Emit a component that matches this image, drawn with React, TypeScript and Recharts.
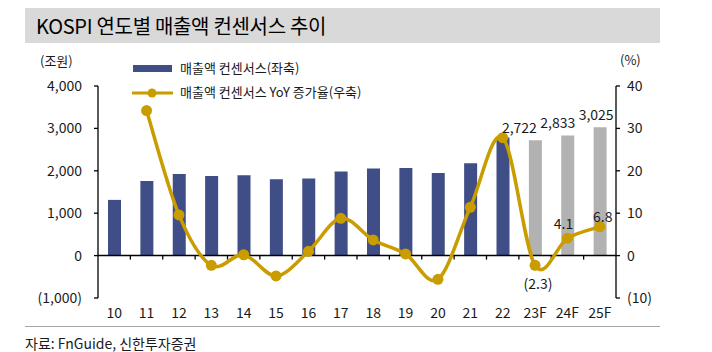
import React from 'react';
import {
  ComposedChart,
  Bar,
  Line,
  XAxis,
  YAxis,
  Cell,
  LabelList,
  ReferenceLine,
} from 'recharts';

const categories = ['10', '11', '12', '13', '14', '15', '16', '17', '18', '19', '20', '21', '22', '23F', '24F', '25F'];
const sales = [1314, 1762, 1927, 1880, 1894, 1802, 1816, 1981, 2052, 2068, 1950, 2179, 2786, 2722, 2833, 3025];
const yoy: (number | null)[] = [null, 34.2, 9.6, -2.3, 0.2, -4.8, 1.0, 8.8, 3.7, 0.4, -5.6, 11.4, 27.8, -2.3, 4.1, 6.8];
const salesLabels: (number | null)[] = [null, null, null, null, null, null, null, null, null, null, null, null, null, 2722, 2833, 3025];
const yoyLabels: (number | null)[] = [null, null, null, null, null, null, null, null, null, null, null, null, null, -2.3, 4.1, 6.8];
const leftTicks = [-1000, 0, 1000, 2000, 3000, 4000];
const rightTicks = [-10, 0, 10, 20, 30, 40];
const isForecast = [false, false, false, false, false, false, false, false, false, false, false, false, false, true, true, true];

const data = categories.map((c, i) => ({
  cat: c,
  sales: sales[i],
  yoy: yoy[i],
  salesLabel: salesLabels[i],
  yoyLabel: yoyLabels[i],
}));

const NAVY = '#3F4E86';
const GRAY = '#B2B2B2';
const GOLD = '#C99C00';
const FONT = '"Noto Sans CJK KR", "Noto Sans", sans-serif';
const TEXT = '#1a1a1a';

const salesLabelDx = [0, 0, 0, 0, 0, 0, 0, 0, 0, 0, 0, 0, 0, -16, -10, -4];
const yoyLabelPos: Record<number, { dx: number; dy: number }> = {
  13: { dx: 3, dy: 20 },
  14: { dx: -4, dy: -13 },
  15: { dx: 3, dy: -9 },
};

const fmtLeft = (v: number) => (v < 0 ? `(${Math.abs(v).toLocaleString('en-US')})` : v.toLocaleString('en-US'));
const fmtRight = (v: number) => (v < 0 ? `(${Math.abs(v)})` : `${v}`);

// Excel-like smooth line (Catmull-Rom spline)
const catmullRom = (context: any) => {
  let pts: number[][] = [];
  return {
    areaStart() {},
    areaEnd() {},
    lineStart() {
      pts = [];
    },
    lineEnd() {
      if (!pts.length) return;
      context.moveTo(pts[0][0], pts[0][1]);
      for (let i = 0; i < pts.length - 1; i++) {
        const p0 = pts[i - 1] || pts[i];
        const p1 = pts[i];
        const p2 = pts[i + 1];
        const p3 = pts[i + 2] || pts[i + 1];
        const c1x = p1[0] + (p2[0] - p0[0]) / 6;
        const c1y = p1[1] + (p2[1] - p0[1]) / 6;
        const c2x = p2[0] - (p3[0] - p1[0]) / 6;
        const c2y = p2[1] - (p3[1] - p1[1]) / 6;
        context.bezierCurveTo(c1x, c1y, c2x, c2y, p2[0], p2[1]);
      }
    },
    point(x: number, y: number) {
      pts.push([+x, +y]);
    },
  };
};

const ZeroAxisTicks = (props: any) => {
  const vb = props.viewBox || {};
  const x = vb.x ?? 0;
  const y = vb.y ?? 0;
  const w = vb.width ?? 0;
  const n = categories.length;
  const marks = [];
  for (let i = 1; i < n; i++) {
    const tx = x + (w * i) / n;
    marks.push(<line key={i} x1={tx} x2={tx} y1={y} y2={y + 4} stroke="#000" strokeWidth={1.3} />);
  }
  return <g>{marks}</g>;
};

const SalesLabel = (props: any) => {
  const { x, y, width, value, index } = props;
  if (value == null) return null;
  return (
    <text
      x={x + width / 2 + (salesLabelDx[index] || 0)}
      y={y - 7}
      textAnchor="middle"
      fontSize={14}
      fontFamily={FONT}
      fill={TEXT}
    >
      {value.toLocaleString('en-US')}
    </text>
  );
};

const YoyLabel = (props: any) => {
  const { x, y, value, index } = props;
  if (value == null) return null;
  const p = yoyLabelPos[index] || { dx: 0, dy: -10 };
  return (
    <text
      x={x + p.dx}
      y={y + p.dy}
      textAnchor="middle"
      dominantBaseline="middle"
      fontSize={14}
      fontFamily={FONT}
      fill={TEXT}
    >
      {value < 0 ? `(${Math.abs(value).toFixed(1)})` : value.toFixed(1)}
    </text>
  );
};

const LegendBox = () => (
  <svg width={300} height={40} style={{ position: 'absolute', left: 133, top: 65, overflow: 'visible' }}>
    <rect x={0} y={0} width={39} height={7} fill={NAVY} />
    <text x={47} y={4} dominantBaseline="middle" fontSize={13} fontFamily={FONT} fill={TEXT}>
      매출액 컨센서스(좌축)
    </text>
    <line x1={-1} x2={40} y1={28} y2={28} stroke={GOLD} strokeWidth={3} />
    <circle cx={19} cy={28} r={4.5} fill={GOLD} />
    <text x={47} y={28} dominantBaseline="middle" fontSize={13} fontFamily={FONT} fill={TEXT}>
      매출액 컨센서스 YoY 증가율(우축)
    </text>
  </svg>
);

export default function App() {
  return (
    <div style={{ position: 'absolute', left: 0, top: 0, width: 712, height: 352, background: '#fff', fontFamily: FONT }}>
      <div
        style={{
          position: 'absolute',
          left: 25,
          top: 8,
          width: 635,
          height: 35,
          background: '#D9D9D9',
        }}
      />
      <div
        style={{
          position: 'absolute',
          left: 36,
          top: 8,
          height: 35,
          lineHeight: '35px',
          fontSize: 20,
          letterSpacing: -0.3,
          color: '#000',
          whiteSpace: 'nowrap',
        }}
      >
        KOSPI 연도별 매출액 컨센서스 추이
      </div>
      <div style={{ position: 'absolute', left: 40, top: 52, fontSize: 13, color: TEXT, lineHeight: '18px' }}>(조원)</div>
      <div style={{ position: 'absolute', left: 620, top: 51, fontSize: 13, color: TEXT, lineHeight: '18px' }}>(%)</div>
      <div style={{ position: 'absolute', left: 0, top: 0 }}>
        <ComposedChart
          width={712}
          height={352}
          data={data}
          margin={{ top: 86, right: 0, bottom: 24, left: 0 }}
          barCategoryGap="60%"
        >
          <XAxis
            dataKey="cat"
            xAxisId="x"
            axisLine={false}
            tickLine={false}
            tickSize={0}
            tickMargin={10}
            height={30}
            interval={0}
            tick={{ fontSize: 14, fontFamily: FONT, fill: TEXT }}
          />
          <YAxis
            yAxisId="l"
            orientation="left"
            width={98}
            domain={[-1000, 4000]}
            ticks={leftTicks}
            tickFormatter={fmtLeft}
            axisLine={{ stroke: '#000', strokeWidth: 1.3 }}
            tickLine={{ stroke: '#000', strokeWidth: 1.3 }}
            tickSize={4}
            tickMargin={12}
            tick={{ fontSize: 14, fontFamily: FONT, fill: TEXT }}
            allowDataOverflow
          />
          <YAxis
            yAxisId="r"
            orientation="right"
            width={96}
            domain={[-10, 40]}
            ticks={rightTicks}
            tickFormatter={fmtRight}
            axisLine={{ stroke: '#000', strokeWidth: 1.3 }}
            tickLine={{ stroke: '#000', strokeWidth: 1.3 }}
            tickSize={4}
            tickMargin={7}
            tick={{ fontSize: 14, fontFamily: FONT, fill: TEXT, textAnchor: 'start' }}
            allowDataOverflow
          />
          <Bar dataKey="sales" xAxisId="x" yAxisId="l" barSize={13} isAnimationActive={false}>
            {data.map((d, i) => (
              <Cell key={d.cat} fill={isForecast[i] ? GRAY : NAVY} />
            ))}
            <LabelList dataKey="salesLabel" content={<SalesLabel />} />
          </Bar>
          <ReferenceLine
            y={0}
            xAxisId="x"
            yAxisId="l"
            stroke="#000"
            strokeWidth={1.5}
            label={(p: any) => <ZeroAxisTicks {...p} />}
          />
          <Line
            dataKey="yoy"
            xAxisId="x"
            yAxisId="r"
            type={catmullRom as any}
            stroke={GOLD}
            strokeWidth={3.5}
            dot={{ r: 5.5, fill: GOLD, stroke: GOLD, strokeWidth: 0 }}
            activeDot={false}
            isAnimationActive={false}
          >
            <LabelList dataKey="yoyLabel" content={<YoyLabel />} />
          </Line>
        </ComposedChart>
      </div>
      <LegendBox />
      <div style={{ position: 'absolute', left: 25, top: 326, width: 635, height: 1, background: '#A6A6A6' }} />
      <div style={{ position: 'absolute', left: 25, top: 333, fontSize: 14, color: TEXT, lineHeight: '20px', whiteSpace: 'nowrap' }}>
        자료: FnGuide, 신한투자증권
      </div>
    </div>
  );
}
